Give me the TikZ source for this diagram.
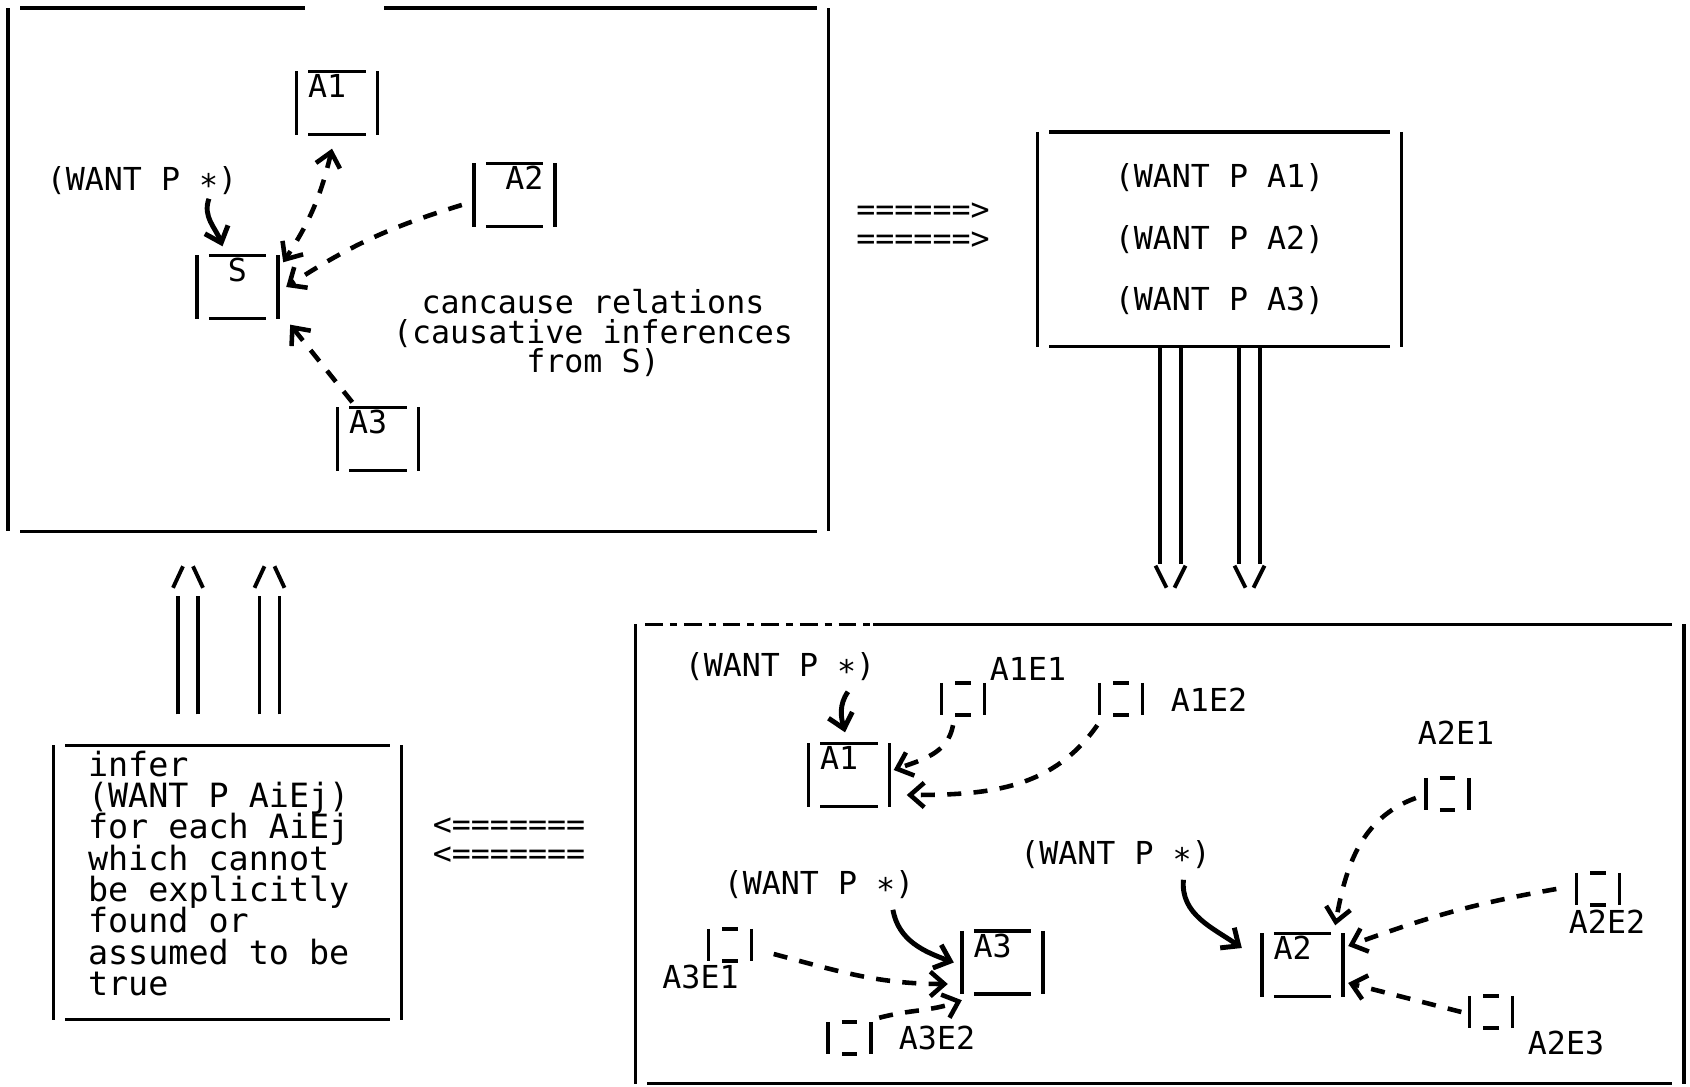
\documentclass[tikz,border=0pt]{standalone}
\usepackage{fontspec}
\newfontfamily\ttyfont{DejaVu Sans Mono}
\usepackage{tikz}
\usetikzlibrary{positioning,arrows.meta,calc}
\tikzset{
  >={Straight Barb[length=4pt,width=7pt]},
  tty/.style={font=\ttyfont\fontsize{9pt}{8.9pt}\selectfont, inner sep=0pt},
  tight/.style={execute at begin node={\lineskiplimit=-20pt\relax}},
  frameline/.style={line width=1pt},
  abox/.style={tty, text width=0.58cm, align=left, inner xsep=0.11cm, inner ysep=0.02cm,
    text height=0.24cm, text depth=0.34cm},
  ebox/.style={minimum width=0.42cm, minimum height=0.31cm, inner sep=0pt},
  bigbox/.style={inner sep=0pt},
  cause/.style={line width=1.3pt, dash pattern=on 4pt off 3.5pt},
  want/.style={line width=1.4pt, ->},
  pipe/.style={line width=1.1pt},
}
% frame drawn like a line printer: bars set in from the sides
\newcommand{\ttysides}[2][0.12cm]{%
  \draw[frameline] (#2.north west) -- (#2.south west);
  \draw[frameline] (#2.north east) -- (#2.south east);
  \draw[frameline] ([xshift=#1]#2.south west) -- ([xshift=-#1]#2.south east);
}
\newcommand{\ttyframe}[2][0.12cm]{%
  \ttysides[#1]{#2}
  \draw[frameline] ([xshift=#1]#2.north west) -- ([xshift=-#1]#2.north east);
}

\begin{document}
\begin{tikzpicture}
  \path[use as bounding box, fill=white] (0,0) rectangle (16.9,10.86);

  % the four big boxes
  \node[bigbox, align=center, font=\ttyfont\fontsize{9pt}{17.5pt}\selectfont,
    minimum width=3.63cm, minimum height=2.135cm] (wants) at (12.195,8.4675)
    {(WANT P A1)\\(WANT P A2)\\(WANT P A3)};
  \node[bigbox, minimum width=8.19cm, minimum height=5.22cm] (causal) at (4.183,8.162) {};
  \node[bigbox, minimum width=10.475cm, minimum height=4.58cm] (expand) at (11.5975,2.32) {};
  \node[bigbox, minimum width=3.47cm, minimum height=2.73cm] (infer) at (2.275,2.035) {};
  \node[tty, tight, align=left, anchor=north west, font=\ttyfont\fontsize{9.5pt}{8.9pt}\selectfont]
    (infertxt) at ([shift={(0.34,-0.05)}]infer.north west)
    {infer\\(WANT P AiEj)\\for each AiEj\\which cannot\\be explicitly\\found or\\assumed to be\\true};

  \ttysides{causal}
  \draw[frameline] ([xshift=0.12cm]causal.north west) -- ([xshift=2.97cm]causal.north west);
  \draw[frameline] ([xshift=3.76cm]causal.north west) -- ([xshift=-0.12cm]causal.north east);
  \ttyframe{wants}
  \ttysides{expand}
  \draw[frameline, dash pattern=on 5pt off 2pt on 2pt off 2pt]
    ([xshift=0.1cm]expand.north west) -- ([xshift=2.38cm]expand.north west);
  \draw[frameline] ([xshift=2.38cm]expand.north west) -- ([xshift=-0.12cm]expand.north east);
  \ttyframe{infer}

  % cancause relations
  \node[tty] (p1) at (1.42,9.05) {(WANT P ∗)};
  \node[abox] (a1) at (3.37,9.83) {A1};
  \node[abox, align=right] (a2) at (5.145,8.91) {A2};
  \node[abox, align=center] (s) at (2.375,7.99) {S};
  \node[abox] (a3) at (3.78,6.47) {A3};
  \node[tty, tight, align=center, font=\ttyfont\fontsize{9pt}{8.5pt}\selectfont]
    (note) at (5.93,7.53) {cancause relations\\(causative inferences\\from S)};

  \draw[want] ([xshift=-0.29cm,yshift=-0.03cm]p1.south east) to[out=-110,in=110] ([shift={(-0.15,0.09)}]s.north);
  \draw[cause, <->] ([shift={(-0.05,-0.14)}]a1.south) to[bend left=10] ([shift={(0.05,-0.07)}]s.north east);
  \draw[cause, ->] ([shift={(-0.12,-0.1)}]a2.west) to[bend right=8] ([xshift=0.08cm]s.east);
  \draw[cause, ->] ([shift={(0.15,0.05)}]a3.north west) -- ([shift={(0.12,-0.06)}]s.south east);

  % line printer arrows between the boxes
  \node[tty, tight, align=left, font=\ttyfont\fontsize{9pt}{8.2pt}\selectfont]
    (fwd) at (9.23,8.595) {======>\\======>};
  \node[tty, tight, align=left, font=\ttyfont\fontsize{9pt}{8.2pt}\selectfont]
    (back) at (5.09,2.445) {<=======\\<=======};

  \foreach \dx in {-0.49,0.30} {
    \draw[pipe] ($(wants.south)+(\dx-0.105,0)$) -- ++(0,-2.17);
    \draw[pipe] ($(wants.south)+(\dx+0.105,0)$) -- ++(0,-2.17);
    \draw[pipe] ($(wants.south)+(\dx-0.15,-2.19)$) -- ++(0.11,-0.22);
    \draw[pipe] ($(wants.south)+(\dx+0.15,-2.19)$) -- ++(-0.11,-0.22);
  }
  \foreach \dx in {-0.395,0.42} {
    \draw[pipe] ($(infer.north)+(\dx-0.1,0.31)$) -- ++(0,1.18);
    \draw[pipe] ($(infer.north)+(\dx+0.1,0.31)$) -- ++(0,1.18);
    \draw[pipe] ($(infer.north)+(\dx-0.15,1.575)$) -- ++(0.1,0.215);
    \draw[pipe] ($(infer.north)+(\dx+0.15,1.575)$) -- ++(-0.1,0.215);
  }

  % expansion of each Ai
  \node[tty] (p2) at (7.80,4.19) {(WANT P ∗)};
  \node[tty] (p3) at (11.155,2.31) {(WANT P ∗)};
  \node[tty] (p4) at (8.19,2.01) {(WANT P ∗)};
  \node[abox] (b1) at (8.49,3.11) {A1};
  \node[abox] (b2) at (13.025,1.21) {A2};
  \node[abox] (b3) at (10.025,1.235) {A3};

  \node[ebox] (e11) at (9.63,3.87) {};
  \node[ebox] (e12) at (11.21,3.87) {};
  \node[ebox] (e21) at (14.475,2.92) {};
  \node[ebox] (e22) at (15.98,1.97) {};
  \node[ebox] (e23) at (14.91,0.74) {};
  \node[ebox] (e31) at (7.30,1.41) {};
  \node[ebox] (e32) at (8.495,0.48) {};
  \node[tty] (l11) at (10.28,4.17) {A1E1};
  \node[tty] (l12) at (12.09,3.86) {A1E2};
  \node[tty] (l21) at (14.56,3.53) {A2E1};
  \node[tty] (l22) at (16.07,1.645) {A2E2};
  \node[tty] (l23) at (15.66,0.43) {A2E3};
  \node[tty] (l31) at (7.005,1.095) {A3E1};
  \node[tty] (l32) at (9.37,0.48) {A3E2};

  \foreach \n in {a1,a2,s,a3,b1,b2,b3} {\ttyframe{\n}}
  \foreach \n in {e11,e12,e21,e22,e23,e31,e32} {\ttyframe[0.14cm]{\n}}

  \draw[want] ([xshift=-0.28cm,yshift=-0.1cm]p2.south east) to[out=-125,in=105] ([shift={(-0.04,0.11)}]b1.north);
  \draw[cause, ->] ([shift={(-0.1,-0.1)}]e11.south) to[out=-100,in=20] ([shift={(0.04,0.05)}]b1.east);
  \draw[cause, ->] ([shift={(-0.02,-0.1)}]e12.south west) to[out=-125,in=0] ([shift={(0.17,-0.2)}]b1.east);

  \draw[want] ([xshift=-0.28cm,yshift=-0.1cm]p3.south east) to[out=-95,in=145] ([shift={(-0.2,0.17)}]b2.west);
  \draw[cause, ->] ([shift={(-0.1,-0.04)}]e21.west) to[out=200,in=80] ([shift={(-0.08,0.08)}]b2.north east);
  \draw[cause, ->] ([xshift=-0.2cm]e22.west) to[out=190,in=20] ([shift={(0.05,0.19)}]b2.east);
  \draw[cause, ->] ([xshift=-0.08cm]e23.west) -- ([shift={(0.05,-0.18)}]b2.east);

  \draw[want] ([xshift=-0.22cm,yshift=-0.1cm]p4.south east) to[out=-80,in=160] ([xshift=-0.08cm]b3.west);
  \draw[cause, ->] ([shift={(0.22,-0.09)}]e31.east) to[out=-15,in=180] ([shift={(-0.14,-0.215)}]b3.west);
  \draw[cause, ->] ([shift={(0.08,0.04)}]e32.north east) to[out=15,in=200] ([yshift=-0.06cm]b3.south west);
\end{tikzpicture}
\end{document}
